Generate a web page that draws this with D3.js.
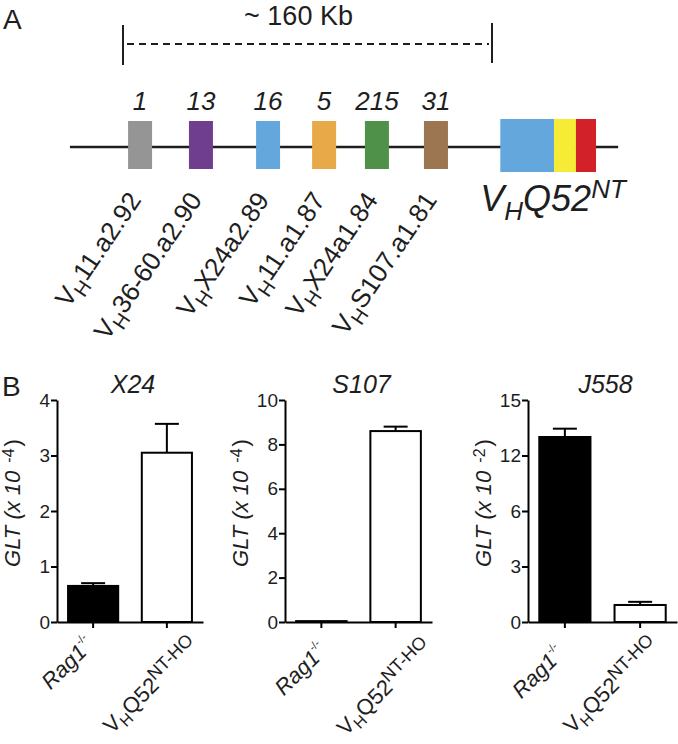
<!DOCTYPE html>
<html><head><meta charset="utf-8">
<script src="https://cdn.jsdelivr.net/npm/d3@7"></script>
<style>
body{margin:0;background:#fff;}
svg{display:block;font-family:"Liberation Sans",Arial,Helvetica,sans-serif;}
</style></head><body>
<svg id="chart" width="678" height="744"></svg>
<script>
// ---------- Panel A data ----------
const geneNumbers = ["1","13","16","5","215","31"];
const geneNames = ["11.a2.92","36-60.a2.90","X24a2.89","11.a1.87","X24a1.84","S107.a1.81"];
const genePositionsKb = [7.4, 33.8, 62.9, 87.2, 110.1, 135.7];
const geneColors = ["#959595","#703e8f","#63a7dc","#e8aa48","#4f9148","#9b7650"];
const constructBoundsKb = [163.6, 186.9, 196.4, 205.1];
const constructColors = ["#63a7dc","#f7ec35","#d22129"];
const locusExtentKb = [-23, 214.7];
const spanKb = [0, 160];
const spanLabel = "~ 160 Kb";

// ---------- Panel B data ----------
const panelTitles = ["X24","S107","J558"];
const panelExponents = ["-4","-4","-2"];
const groups = ["Rag1","VHQ52NT-HO"];
const yTicksX24 = [0,1,2,3,4];
const yTicksS107 = [0,2,4,6,8,10];
const yTicksJ558 = [0,3,6,12,15];
const rag1Means = [0.65, 0.04, 13.0];
const rag1Sem   = [0.05, 0.0, 0.45];
const vhq52Means = [3.05, 8.6, 0.92];
const vhq52Sem   = [0.52, 0.2, 0.17];

const svg = d3.select("#chart");
const ink = "#1e1e1e";

// ================= PANEL A =================
svg.append("text").attr("x",3).attr("y",29).attr("font-size",28).attr("fill",ink).text("A");

const xKb = d3.scaleLinear().domain(spanKb).range([123,492]);

// bracket
const br = svg.append("g").attr("stroke",ink).attr("stroke-width",2);
br.append("line").attr("x1",xKb(spanKb[0])).attr("x2",xKb(spanKb[0])).attr("y1",25).attr("y2",65);
br.append("line").attr("x1",xKb(spanKb[1])).attr("x2",xKb(spanKb[1])).attr("y1",23).attr("y2",63);
br.append("line").attr("x1",xKb(spanKb[0])+4).attr("x2",xKb(spanKb[1])-3).attr("y1",44).attr("y2",44)
  .attr("stroke-dasharray","7,5");
svg.append("text").attr("x",(xKb(spanKb[0])+xKb(spanKb[1]))/2-9).attr("y",25)
  .attr("text-anchor","middle").attr("font-size",27).attr("fill",ink).text(spanLabel);

// locus line
svg.append("line").attr("x1",xKb(locusExtentKb[0])).attr("x2",xKb(locusExtentKb[1]))
  .attr("y1",147).attr("y2",147).attr("stroke",ink).attr("stroke-width",2.5);

// gene boxes
const geneW = 24;
svg.selectAll("rect.gene").data(genePositionsKb).join("rect").attr("class","gene")
  .attr("x",d=>xKb(d)-geneW/2).attr("width",geneW).attr("y",121).attr("height",48)
  .attr("fill",(d,i)=>geneColors[i]);

// gene numbers
svg.selectAll("text.gnum").data(genePositionsKb).join("text").attr("class","gnum")
  .attr("x",d=>xKb(d)).attr("y",110).attr("text-anchor","middle")
  .attr("font-size",26).attr("font-style","italic").attr("fill",ink)
  .text((d,i)=>geneNumbers[i]);

// gene names
const gl = svg.selectAll("text.gname").data(genePositionsKb).join("text").attr("class","gname")
  .attr("text-anchor","end").attr("font-size",26).attr("fill",ink)
  .attr("transform",d=>`translate(${xKb(d)+2},200) rotate(-56)`);
gl.append("tspan").text("V");
gl.append("tspan").attr("font-size",20).attr("dy",7).text("H");
gl.append("tspan").attr("dy",-7).text((d,i)=>geneNames[i]);

// construct
const seg = constructColors.map((c,i)=>({a:constructBoundsKb[i],b:constructBoundsKb[i+1],c}));
svg.selectAll("rect.seg").data(seg).join("rect").attr("class","seg")
  .attr("x",d=>xKb(d.a)).attr("width",d=>xKb(d.b)-xKb(d.a)).attr("y",119).attr("height",53)
  .attr("fill",d=>d.c);
const ct = svg.append("text").attr("x",xKb(constructBoundsKb[0])-20).attr("y",211)
  .attr("font-size",36).attr("font-style","italic").attr("fill",ink);
ct.append("tspan").text("V");
ct.append("tspan").attr("font-size",26).attr("dy",9).text("H");
ct.append("tspan").attr("dy",-9).text("Q52");
ct.append("tspan").attr("font-size",26).attr("dy",-13).text("NT");

// ================= PANEL B =================
svg.append("text").attr("x",2).attr("y",396).attr("font-size",28).attr("fill",ink).text("B");

const axisLeftX = [57, 285, 528];
const axisRightX = [203, 432, 677];
const yTop = 400, yBottom = 622;
const tickSets = [yTicksX24, yTicksS107, yTicksJ558];
// label end offsets [dx, dy] per panel per group (layout only)
const labelEnd = [[[2,24],[33,25]], [[7,30],[38,27]], [[1,33],[20,25]]];

panelTitles.forEach((title, p) => {
  const ticks = tickSets[p];
  const y = d3.scaleLinear().domain(ticks)
    .range(ticks.map((d,i)=> yBottom - i*(yBottom-yTop)/(ticks.length-1)));
  const x = d3.scaleBand().domain(groups).range([axisLeftX[p], axisRightX[p]])
    .paddingInner(0.32).paddingOuter(0.15);
  const g = svg.append("g");

  const means = [rag1Means[p], vhq52Means[p]];
  const sems = [rag1Sem[p], vhq52Sem[p]];
  const fills = ["#000","#fff"];
  groups.forEach((grp,i)=>{
    const cx = x(grp)+x.bandwidth()/2;
    if (sems[i] > 0) {
      g.append("line").attr("x1",cx).attr("x2",cx).attr("y1",y(means[i])).attr("y2",y(means[i]+sems[i]))
        .attr("stroke","#000").attr("stroke-width",2);
      g.append("line").attr("x1",cx-12).attr("x2",cx+12).attr("y1",y(means[i]+sems[i])).attr("y2",y(means[i]+sems[i]))
        .attr("stroke","#000").attr("stroke-width",2);
    }
  });
  g.selectAll("rect.bar").data(groups).join("rect").attr("class","bar")
    .attr("x",d=>x(d)).attr("width",x.bandwidth())
    .attr("y",(d,i)=>y(means[i])).attr("height",(d,i)=>yBottom-y(means[i]))
    .attr("fill",(d,i)=>fills[i]).attr("stroke","#000").attr("stroke-width",2);

  const ya = g.append("g").attr("transform",`translate(${axisLeftX[p]},0)`)
    .call(d3.axisLeft(y).tickValues(ticks).tickSize(6).tickSizeOuter(0).tickFormat(d=>String(d)));
  const xa = g.append("g").attr("transform",`translate(0,${yBottom})`)
    .call(d3.axisBottom(x).tickSize(6).tickSizeOuter(0).tickFormat(""));
  [ya,xa].forEach(a=>{
    a.select(".domain").attr("stroke","#000").attr("stroke-width",2);
    a.selectAll(".tick line").attr("stroke","#000").attr("stroke-width",2);
  });
  ya.selectAll(".tick text").attr("font-size",19).attr("fill",ink)
    .attr("font-family","Liberation Sans, Arial, sans-serif").attr("x",-7);

  g.append("text").attr("x",(axisLeftX[p]+axisRightX[p])/2+3).attr("y",393)
    .attr("text-anchor","middle").attr("font-size",25).attr("font-style","italic").attr("fill",ink).text(title);

  const yl = g.append("text").attr("text-anchor","middle").attr("font-size",22).attr("fill",ink)
    .attr("font-style","italic")
    .attr("transform",`translate(${axisLeftX[p]-37},${(yTop+yBottom)/2-8}) rotate(-90)`);
  yl.append("tspan").text("GLT (x 10");
  yl.append("tspan").attr("font-size",16).attr("dx",8).attr("dy",-6).attr("font-style","normal").text(panelExponents[p]);
  yl.append("tspan").attr("dy",6).attr("dx",2).attr("font-style","normal").text(")");

  groups.forEach((grp,i)=>{
    const cx = x(grp)+x.bandwidth()/2;
    const t = g.append("text").attr("text-anchor","end").attr("font-size",22).attr("fill",ink)
      .attr("transform",`translate(${cx+labelEnd[p][i][0]},${yBottom+labelEnd[p][i][1]}) rotate(-45)`);
    if (i===0) {
      t.append("tspan").attr("font-style","italic").text("Rag1");
      t.append("tspan").attr("font-size",11).attr("dy",-11).text("-/-");
    } else {
      t.append("tspan").text("V");
      t.append("tspan").attr("font-size",16).attr("dy",5).text("H");
      t.append("tspan").attr("dy",-5).text("Q52");
      t.append("tspan").attr("font-size",18).attr("dy",-8).text("NT-HO");
    }
  });
});
</script>
</body></html>
